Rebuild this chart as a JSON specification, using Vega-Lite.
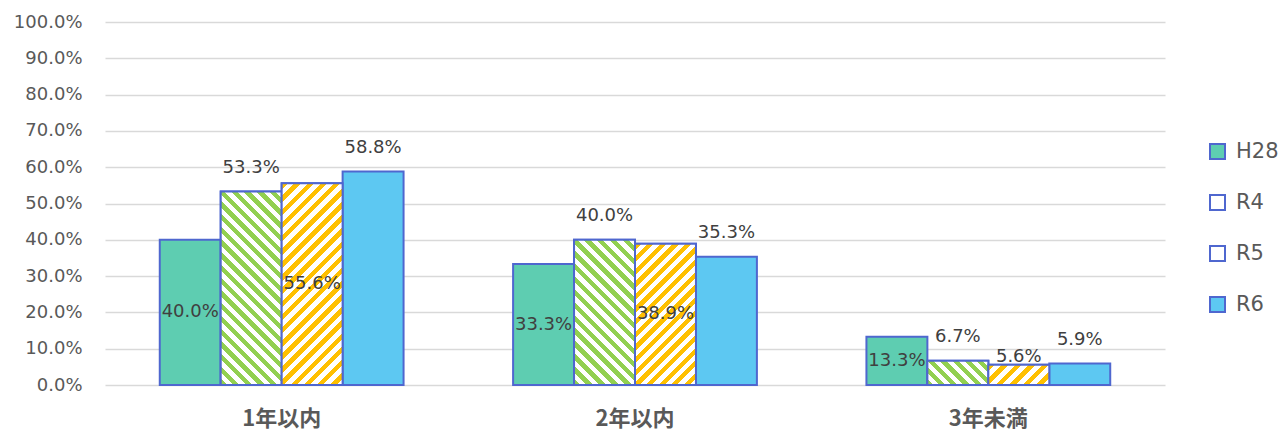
{
"$schema": "https://vega.github.io/schema/vega-lite/v6.json",
"width": 1060, "height": 363,
"autosize": {"type": "none"},
"padding": {"left": 105, "top": 22, "right": 115, "bottom": 47},
"background": "white",
"data": {"values": [
{"period":"1年以内","series":"H28","value":0.4},
{"period":"1年以内","series":"R4","value":0.533},
{"period":"1年以内","series":"R5","value":0.556},
{"period":"1年以内","series":"R6","value":0.588},
{"period":"2年以内","series":"H28","value":0.333},
{"period":"2年以内","series":"R4","value":0.4},
{"period":"2年以内","series":"R5","value":0.389},
{"period":"2年以内","series":"R6","value":0.353},
{"period":"3年未満","series":"H28","value":0.133},
{"period":"3年未満","series":"R4","value":0.067},
{"period":"3年未満","series":"R5","value":0.056},
{"period":"3年未満","series":"R6","value":0.059}
]},
"encoding": {
"x": {"field":"period","type":"nominal","title":null,"scale":{"domain":["1年以内","2年以内","3年未満"],"paddingInner":0.31,"paddingOuter":0.155},
 "axis":{"labelFont":"Noto Sans CJK JP","labelFontWeight":"bold","labelFontSize":22,"labelColor":"#595959","labelPadding":23,"domain":false,"ticks":false,"grid":false,"labelAngle":0}},
"xOffset": {"field":"series","type":"nominal","scale":{"domain":["H28","R4","R5","R6"],"paddingInner":0,"paddingOuter":0}},
"y": {"field":"value","type":"quantitative","title":null,"scale":{"domain":[0,1],"nice":false},
 "axis":{"format":".1%","values":[0,0.1,0.2,0.3,0.4,0.5,0.6,0.7,0.8,0.9,1],"labelFont":"DejaVu Sans","labelFontSize":18,"labelColor":"#595959","labelPadding":23,"ticks":false,"tickSize":0,"domain":false,"grid":true,"gridColor":"#D9D9D9","gridWidth":1.5}}
},
"layer": [
{"mark":{"type":"point","filled":true,"size":0,"opacity":1,"stroke":"#4F67CF","strokeWidth":2},
 "encoding":{"shape":{"field":"series","type":"nominal","scale":{"domain":["H28","R4","R5","R6"],"range":["square","square","square","square"]},
  "legend":{"title":null,"orient":"none","legendX":1102,"legendY":119,"symbolType":"square","symbolSize":225,"symbolStrokeWidth":2,"symbolOpacity":1,"labelFont":"DejaVu Sans","labelFontSize":21,"labelColor":"#595959","labelOffset":8,"rowPadding":28,"padding":0,
   "encode":{"symbols":{"update":{
    "stroke":{"value":"#4F67CF"},
    "strokeWidth":{"value":2},
    "size":{"value":225},
    "fill":[
     {"test":"datum.value==='H28'","value":"#5ECDB1"},
     {"test":"datum.value==='R4'","value":"#D9EFC2"},
     {"test":"datum.value==='R5'","value":"#FFE9A6"},
     {"value":"#5DC8F2"}]}}}}}}
},
{"mark":{"type":"bar","stroke":"#4F67CF","strokeWidth":2},
 "encoding":{"color":{"field":"series","type":"nominal","scale":{"domain":["H28","R4","R5","R6"],"range":["#5ECDB1","#ffffff","#ffffff","#5DC8F2"]},"legend":null}}
},
{"transform":[{"filter":"datum.series==='R4' && datum.period==='1年以内'"}],
 "mark":{"type":"bar","stroke":"#4F67CF","strokeWidth":2,"fill":{"gradient":"linear","x1":0,"y1":1,"x2":0.37685,"y2":-0.1963,"stops":[{"offset":0,"color":"#92D050"},{"offset":0.025,"color":"#92D050"},{"offset":0.025,"color":"#fff"},{"offset":0.05,"color":"#fff"},{"offset":0.05,"color":"#92D050"},{"offset":0.075,"color":"#92D050"},{"offset":0.075,"color":"#fff"},{"offset":0.1,"color":"#fff"},{"offset":0.1,"color":"#92D050"},{"offset":0.125,"color":"#92D050"},{"offset":0.125,"color":"#fff"},{"offset":0.15,"color":"#fff"},{"offset":0.15,"color":"#92D050"},{"offset":0.175,"color":"#92D050"},{"offset":0.175,"color":"#fff"},{"offset":0.2,"color":"#fff"},{"offset":0.2,"color":"#92D050"},{"offset":0.225,"color":"#92D050"},{"offset":0.225,"color":"#fff"},{"offset":0.25,"color":"#fff"},{"offset":0.25,"color":"#92D050"},{"offset":0.275,"color":"#92D050"},{"offset":0.275,"color":"#fff"},{"offset":0.3,"color":"#fff"},{"offset":0.3,"color":"#92D050"},{"offset":0.325,"color":"#92D050"},{"offset":0.325,"color":"#fff"},{"offset":0.35,"color":"#fff"},{"offset":0.35,"color":"#92D050"},{"offset":0.375,"color":"#92D050"},{"offset":0.375,"color":"#fff"},{"offset":0.4,"color":"#fff"},{"offset":0.4,"color":"#92D050"},{"offset":0.425,"color":"#92D050"},{"offset":0.425,"color":"#fff"},{"offset":0.45,"color":"#fff"},{"offset":0.45,"color":"#92D050"},{"offset":0.475,"color":"#92D050"},{"offset":0.475,"color":"#fff"},{"offset":0.5,"color":"#fff"},{"offset":0.5,"color":"#92D050"},{"offset":0.525,"color":"#92D050"},{"offset":0.525,"color":"#fff"},{"offset":0.55,"color":"#fff"},{"offset":0.55,"color":"#92D050"},{"offset":0.575,"color":"#92D050"},{"offset":0.575,"color":"#fff"},{"offset":0.6,"color":"#fff"},{"offset":0.6,"color":"#92D050"},{"offset":0.625,"color":"#92D050"},{"offset":0.625,"color":"#fff"},{"offset":0.65,"color":"#fff"},{"offset":0.65,"color":"#92D050"},{"offset":0.675,"color":"#92D050"},{"offset":0.675,"color":"#fff"},{"offset":0.7,"color":"#fff"},{"offset":0.7,"color":"#92D050"},{"offset":0.725,"color":"#92D050"},{"offset":0.725,"color":"#fff"},{"offset":0.75,"color":"#fff"},{"offset":0.75,"color":"#92D050"},{"offset":0.775,"color":"#92D050"},{"offset":0.775,"color":"#fff"},{"offset":0.8,"color":"#fff"},{"offset":0.8,"color":"#92D050"},{"offset":0.825,"color":"#92D050"},{"offset":0.825,"color":"#fff"},{"offset":0.85,"color":"#fff"},{"offset":0.85,"color":"#92D050"},{"offset":0.875,"color":"#92D050"},{"offset":0.875,"color":"#fff"},{"offset":0.9,"color":"#fff"},{"offset":0.9,"color":"#92D050"},{"offset":0.925,"color":"#92D050"},{"offset":0.925,"color":"#fff"},{"offset":0.95,"color":"#fff"},{"offset":0.95,"color":"#92D050"},{"offset":0.975,"color":"#92D050"},{"offset":0.975,"color":"#fff"},{"offset":1,"color":"#fff"}]}}
},
{"transform":[{"filter":"datum.series==='R4' && datum.period==='2年以内'"}],
 "mark":{"type":"bar","stroke":"#4F67CF","strokeWidth":2,"fill":{"gradient":"linear","x1":0,"y1":1,"x2":0.50668,"y2":-0.20707,"stops":[{"offset":0,"color":"#92D050"},{"offset":0.03125,"color":"#92D050"},{"offset":0.03125,"color":"#fff"},{"offset":0.0625,"color":"#fff"},{"offset":0.0625,"color":"#92D050"},{"offset":0.09375,"color":"#92D050"},{"offset":0.09375,"color":"#fff"},{"offset":0.125,"color":"#fff"},{"offset":0.125,"color":"#92D050"},{"offset":0.15625,"color":"#92D050"},{"offset":0.15625,"color":"#fff"},{"offset":0.1875,"color":"#fff"},{"offset":0.1875,"color":"#92D050"},{"offset":0.21875,"color":"#92D050"},{"offset":0.21875,"color":"#fff"},{"offset":0.25,"color":"#fff"},{"offset":0.25,"color":"#92D050"},{"offset":0.28125,"color":"#92D050"},{"offset":0.28125,"color":"#fff"},{"offset":0.3125,"color":"#fff"},{"offset":0.3125,"color":"#92D050"},{"offset":0.34375,"color":"#92D050"},{"offset":0.34375,"color":"#fff"},{"offset":0.375,"color":"#fff"},{"offset":0.375,"color":"#92D050"},{"offset":0.40625,"color":"#92D050"},{"offset":0.40625,"color":"#fff"},{"offset":0.4375,"color":"#fff"},{"offset":0.4375,"color":"#92D050"},{"offset":0.46875,"color":"#92D050"},{"offset":0.46875,"color":"#fff"},{"offset":0.5,"color":"#fff"},{"offset":0.5,"color":"#92D050"},{"offset":0.53125,"color":"#92D050"},{"offset":0.53125,"color":"#fff"},{"offset":0.5625,"color":"#fff"},{"offset":0.5625,"color":"#92D050"},{"offset":0.59375,"color":"#92D050"},{"offset":0.59375,"color":"#fff"},{"offset":0.625,"color":"#fff"},{"offset":0.625,"color":"#92D050"},{"offset":0.65625,"color":"#92D050"},{"offset":0.65625,"color":"#fff"},{"offset":0.6875,"color":"#fff"},{"offset":0.6875,"color":"#92D050"},{"offset":0.71875,"color":"#92D050"},{"offset":0.71875,"color":"#fff"},{"offset":0.75,"color":"#fff"},{"offset":0.75,"color":"#92D050"},{"offset":0.78125,"color":"#92D050"},{"offset":0.78125,"color":"#fff"},{"offset":0.8125,"color":"#fff"},{"offset":0.8125,"color":"#92D050"},{"offset":0.84375,"color":"#92D050"},{"offset":0.84375,"color":"#fff"},{"offset":0.875,"color":"#fff"},{"offset":0.875,"color":"#92D050"},{"offset":0.90625,"color":"#92D050"},{"offset":0.90625,"color":"#fff"},{"offset":0.9375,"color":"#fff"},{"offset":0.9375,"color":"#92D050"},{"offset":0.96875,"color":"#92D050"},{"offset":0.96875,"color":"#fff"},{"offset":1,"color":"#fff"}]}}
},
{"transform":[{"filter":"datum.series==='R4' && datum.period==='3年未満'"}],
 "mark":{"type":"bar","stroke":"#4F67CF","strokeWidth":2,"fill":{"gradient":"linear","x1":0,"y1":1,"x2":1.20687,"y2":0.51846,"stops":[{"offset":0,"color":"#92D050"},{"offset":0.0714,"color":"#92D050"},{"offset":0.0714,"color":"#fff"},{"offset":0.1429,"color":"#fff"},{"offset":0.1429,"color":"#92D050"},{"offset":0.2143,"color":"#92D050"},{"offset":0.2143,"color":"#fff"},{"offset":0.2857,"color":"#fff"},{"offset":0.2857,"color":"#92D050"},{"offset":0.3571,"color":"#92D050"},{"offset":0.3571,"color":"#fff"},{"offset":0.4286,"color":"#fff"},{"offset":0.4286,"color":"#92D050"},{"offset":0.5,"color":"#92D050"},{"offset":0.5,"color":"#fff"},{"offset":0.5714,"color":"#fff"},{"offset":0.5714,"color":"#92D050"},{"offset":0.6429,"color":"#92D050"},{"offset":0.6429,"color":"#fff"},{"offset":0.7143,"color":"#fff"},{"offset":0.7143,"color":"#92D050"},{"offset":0.7857,"color":"#92D050"},{"offset":0.7857,"color":"#fff"},{"offset":0.8571,"color":"#fff"},{"offset":0.8571,"color":"#92D050"},{"offset":0.9286,"color":"#92D050"},{"offset":0.9286,"color":"#fff"},{"offset":1,"color":"#fff"}]}}
},
{"transform":[{"filter":"datum.series==='R5' && datum.period==='1年以内'"}],
 "mark":{"type":"bar","stroke":"#4F67CF","strokeWidth":2,"fill":{"gradient":"linear","x1":0,"y1":0,"x2":0.36032,"y2":1.19316,"stops":[{"offset":0,"color":"#FFC000"},{"offset":0.025,"color":"#FFC000"},{"offset":0.025,"color":"#fff"},{"offset":0.05,"color":"#fff"},{"offset":0.05,"color":"#FFC000"},{"offset":0.075,"color":"#FFC000"},{"offset":0.075,"color":"#fff"},{"offset":0.1,"color":"#fff"},{"offset":0.1,"color":"#FFC000"},{"offset":0.125,"color":"#FFC000"},{"offset":0.125,"color":"#fff"},{"offset":0.15,"color":"#fff"},{"offset":0.15,"color":"#FFC000"},{"offset":0.175,"color":"#FFC000"},{"offset":0.175,"color":"#fff"},{"offset":0.2,"color":"#fff"},{"offset":0.2,"color":"#FFC000"},{"offset":0.225,"color":"#FFC000"},{"offset":0.225,"color":"#fff"},{"offset":0.25,"color":"#fff"},{"offset":0.25,"color":"#FFC000"},{"offset":0.275,"color":"#FFC000"},{"offset":0.275,"color":"#fff"},{"offset":0.3,"color":"#fff"},{"offset":0.3,"color":"#FFC000"},{"offset":0.325,"color":"#FFC000"},{"offset":0.325,"color":"#fff"},{"offset":0.35,"color":"#fff"},{"offset":0.35,"color":"#FFC000"},{"offset":0.375,"color":"#FFC000"},{"offset":0.375,"color":"#fff"},{"offset":0.4,"color":"#fff"},{"offset":0.4,"color":"#FFC000"},{"offset":0.425,"color":"#FFC000"},{"offset":0.425,"color":"#fff"},{"offset":0.45,"color":"#fff"},{"offset":0.45,"color":"#FFC000"},{"offset":0.475,"color":"#FFC000"},{"offset":0.475,"color":"#fff"},{"offset":0.5,"color":"#fff"},{"offset":0.5,"color":"#FFC000"},{"offset":0.525,"color":"#FFC000"},{"offset":0.525,"color":"#fff"},{"offset":0.55,"color":"#fff"},{"offset":0.55,"color":"#FFC000"},{"offset":0.575,"color":"#FFC000"},{"offset":0.575,"color":"#fff"},{"offset":0.6,"color":"#fff"},{"offset":0.6,"color":"#FFC000"},{"offset":0.625,"color":"#FFC000"},{"offset":0.625,"color":"#fff"},{"offset":0.65,"color":"#fff"},{"offset":0.65,"color":"#FFC000"},{"offset":0.675,"color":"#FFC000"},{"offset":0.675,"color":"#fff"},{"offset":0.7,"color":"#fff"},{"offset":0.7,"color":"#FFC000"},{"offset":0.725,"color":"#FFC000"},{"offset":0.725,"color":"#fff"},{"offset":0.75,"color":"#fff"},{"offset":0.75,"color":"#FFC000"},{"offset":0.775,"color":"#FFC000"},{"offset":0.775,"color":"#fff"},{"offset":0.8,"color":"#fff"},{"offset":0.8,"color":"#FFC000"},{"offset":0.825,"color":"#FFC000"},{"offset":0.825,"color":"#fff"},{"offset":0.85,"color":"#fff"},{"offset":0.85,"color":"#FFC000"},{"offset":0.875,"color":"#FFC000"},{"offset":0.875,"color":"#fff"},{"offset":0.9,"color":"#fff"},{"offset":0.9,"color":"#FFC000"},{"offset":0.925,"color":"#FFC000"},{"offset":0.925,"color":"#fff"},{"offset":0.95,"color":"#fff"},{"offset":0.95,"color":"#FFC000"},{"offset":0.975,"color":"#FFC000"},{"offset":0.975,"color":"#fff"},{"offset":1,"color":"#fff"}]}}
},
{"transform":[{"filter":"datum.series==='R5' && datum.period==='2年以内'"}],
 "mark":{"type":"bar","stroke":"#4F67CF","strokeWidth":2,"fill":{"gradient":"linear","x1":0,"y1":0,"x2":0.52089,"y2":1.2068,"stops":[{"offset":0,"color":"#FFC000"},{"offset":0.03125,"color":"#FFC000"},{"offset":0.03125,"color":"#fff"},{"offset":0.0625,"color":"#fff"},{"offset":0.0625,"color":"#FFC000"},{"offset":0.09375,"color":"#FFC000"},{"offset":0.09375,"color":"#fff"},{"offset":0.125,"color":"#fff"},{"offset":0.125,"color":"#FFC000"},{"offset":0.15625,"color":"#FFC000"},{"offset":0.15625,"color":"#fff"},{"offset":0.1875,"color":"#fff"},{"offset":0.1875,"color":"#FFC000"},{"offset":0.21875,"color":"#FFC000"},{"offset":0.21875,"color":"#fff"},{"offset":0.25,"color":"#fff"},{"offset":0.25,"color":"#FFC000"},{"offset":0.28125,"color":"#FFC000"},{"offset":0.28125,"color":"#fff"},{"offset":0.3125,"color":"#fff"},{"offset":0.3125,"color":"#FFC000"},{"offset":0.34375,"color":"#FFC000"},{"offset":0.34375,"color":"#fff"},{"offset":0.375,"color":"#fff"},{"offset":0.375,"color":"#FFC000"},{"offset":0.40625,"color":"#FFC000"},{"offset":0.40625,"color":"#fff"},{"offset":0.4375,"color":"#fff"},{"offset":0.4375,"color":"#FFC000"},{"offset":0.46875,"color":"#FFC000"},{"offset":0.46875,"color":"#fff"},{"offset":0.5,"color":"#fff"},{"offset":0.5,"color":"#FFC000"},{"offset":0.53125,"color":"#FFC000"},{"offset":0.53125,"color":"#fff"},{"offset":0.5625,"color":"#fff"},{"offset":0.5625,"color":"#FFC000"},{"offset":0.59375,"color":"#FFC000"},{"offset":0.59375,"color":"#fff"},{"offset":0.625,"color":"#fff"},{"offset":0.625,"color":"#FFC000"},{"offset":0.65625,"color":"#FFC000"},{"offset":0.65625,"color":"#fff"},{"offset":0.6875,"color":"#fff"},{"offset":0.6875,"color":"#FFC000"},{"offset":0.71875,"color":"#FFC000"},{"offset":0.71875,"color":"#fff"},{"offset":0.75,"color":"#fff"},{"offset":0.75,"color":"#FFC000"},{"offset":0.78125,"color":"#FFC000"},{"offset":0.78125,"color":"#fff"},{"offset":0.8125,"color":"#fff"},{"offset":0.8125,"color":"#FFC000"},{"offset":0.84375,"color":"#FFC000"},{"offset":0.84375,"color":"#fff"},{"offset":0.875,"color":"#fff"},{"offset":0.875,"color":"#FFC000"},{"offset":0.90625,"color":"#FFC000"},{"offset":0.90625,"color":"#fff"},{"offset":0.9375,"color":"#fff"},{"offset":0.9375,"color":"#FFC000"},{"offset":0.96875,"color":"#FFC000"},{"offset":0.96875,"color":"#fff"},{"offset":1,"color":"#fff"}]}}
},
{"transform":[{"filter":"datum.series==='R5' && datum.period==='3年未満'"}],
 "mark":{"type":"bar","stroke":"#4F67CF","strokeWidth":2,"fill":{"gradient":"linear","x1":0,"y1":0,"x2":1.20004,"y2":0.40033,"stops":[{"offset":0,"color":"#FFC000"},{"offset":0.0833,"color":"#FFC000"},{"offset":0.0833,"color":"#fff"},{"offset":0.1667,"color":"#fff"},{"offset":0.1667,"color":"#FFC000"},{"offset":0.25,"color":"#FFC000"},{"offset":0.25,"color":"#fff"},{"offset":0.3333,"color":"#fff"},{"offset":0.3333,"color":"#FFC000"},{"offset":0.4167,"color":"#FFC000"},{"offset":0.4167,"color":"#fff"},{"offset":0.5,"color":"#fff"},{"offset":0.5,"color":"#FFC000"},{"offset":0.5833,"color":"#FFC000"},{"offset":0.5833,"color":"#fff"},{"offset":0.6667,"color":"#fff"},{"offset":0.6667,"color":"#FFC000"},{"offset":0.75,"color":"#FFC000"},{"offset":0.75,"color":"#fff"},{"offset":0.8333,"color":"#fff"},{"offset":0.8333,"color":"#FFC000"},{"offset":0.9167,"color":"#FFC000"},{"offset":0.9167,"color":"#fff"},{"offset":1,"color":"#fff"}]}}
},
{"transform":[{"filter":"datum.series==='R4' || datum.series==='R6'"}],
 "mark":{"type":"text","font":"DejaVu Sans","fontSize":18,"fill":"#404040","baseline":"middle","dy":-24},
 "encoding":{"text":{"field":"value","type":"quantitative","format":".1%"}}
},
{"transform":[{"filter":"datum.series==='H28' || datum.series==='R5'"},{"calculate":"datum.value < 0.1 ? datum.value + 0.02 : datum.value / 2","as":"labelY"}],
 "mark":{"type":"text","font":"DejaVu Sans","fontSize":18,"fill":"#404040","baseline":"middle"},
 "encoding":{"y":{"field":"labelY","type":"quantitative","title":null},"text":{"field":"value","type":"quantitative","format":".1%"}}
}
],
"config": {"font":"DejaVu Sans","view":{"stroke":null}}
}
